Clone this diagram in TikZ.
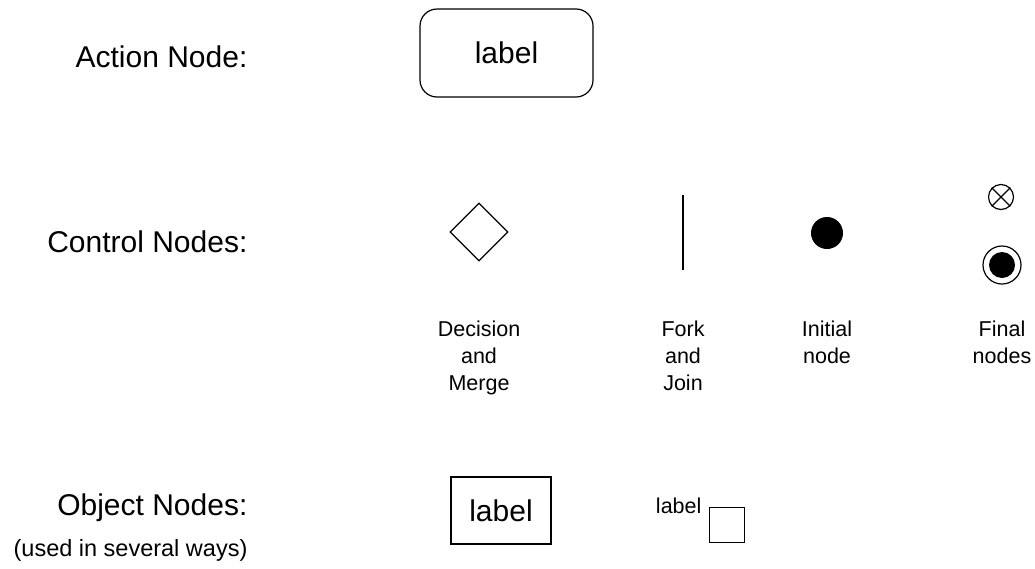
\documentclass[tikz,border=0pt]{standalone}
\usepackage{fontspec}
\setmainfont{Liberation Sans}
\usetikzlibrary{shapes.geometric}
\begin{document}
\begin{tikzpicture}[x=1pt,y=-1pt,line width=1.2pt,
  bigtext/.style={font=\fontsize{30}{36}\selectfont},
  smalltext/.style={font=\fontsize{21.5}{27}\selectfont,align=center,inner sep=0},
  rowtext/.style={bigtext,anchor=base east,inner sep=0}]
\useasboundingbox (0,0) rectangle (1035,568);
% row titles
\node(actiontitle) at (248,67)[rowtext]          {Action Node:};
\node(controltitle) at (248,252)[rowtext]        {Control Nodes:};
\node(objecttitle) at (248,515)[rowtext]         {Object Nodes:};
\node(objectnote) at (248,556)[smalltext,anchor=base east,font=\fontsize{23.5}{28}\selectfont] {(used in several ways)};
% action node
\node(action) at (506.5,53)[draw,rounded corners=17,minimum width=173,minimum height=88,bigtext] {label};
% control nodes
\node(decision) at (479,232)[shape=diamond,draw,minimum width=58,minimum height=58,inner sep=0] {};
\node(fork) at (683,232.5)[fill,minimum width=1.3,minimum height=75,inner sep=0] {};
\node(initial) at (827,233)[shape=circle,fill,minimum size=32,inner sep=0] {};
\node(flowfinal) at (1001,197)[shape=circle,draw,minimum size=25,inner sep=0] {};
\draw (flowfinal.north west) -- (flowfinal.south east);
\draw (flowfinal.north east) -- (flowfinal.south west);
\node(final) at (1002,265)[shape=circle,draw,minimum size=38,inner sep=0] {};
\node(finaldot) at (1002,265)[shape=circle,fill,minimum size=26,inner sep=0] {};
\node(decisiontext) at (479,320)[smalltext,anchor=north]  {Decision\\and\\Merge};
\node(forktext) at (683,320)[smalltext,anchor=north]      {Fork\\and\\Join};
\node(initialtext) at (827,320)[smalltext,anchor=north]   {Initial\\node};
\node(finaltext) at (1002,320)[smalltext,anchor=north]    {Final\\nodes};
% object nodes
\node(object) at (501,510.5)[draw,minimum width=100,minimum height=67,bigtext] {label};
\node(pin) at (727,525)[draw,minimum size=35,inner sep=0] {};
\node(pinlabel) at (702,513)[smalltext,anchor=base east] {label};
\end{tikzpicture}
\end{document}
